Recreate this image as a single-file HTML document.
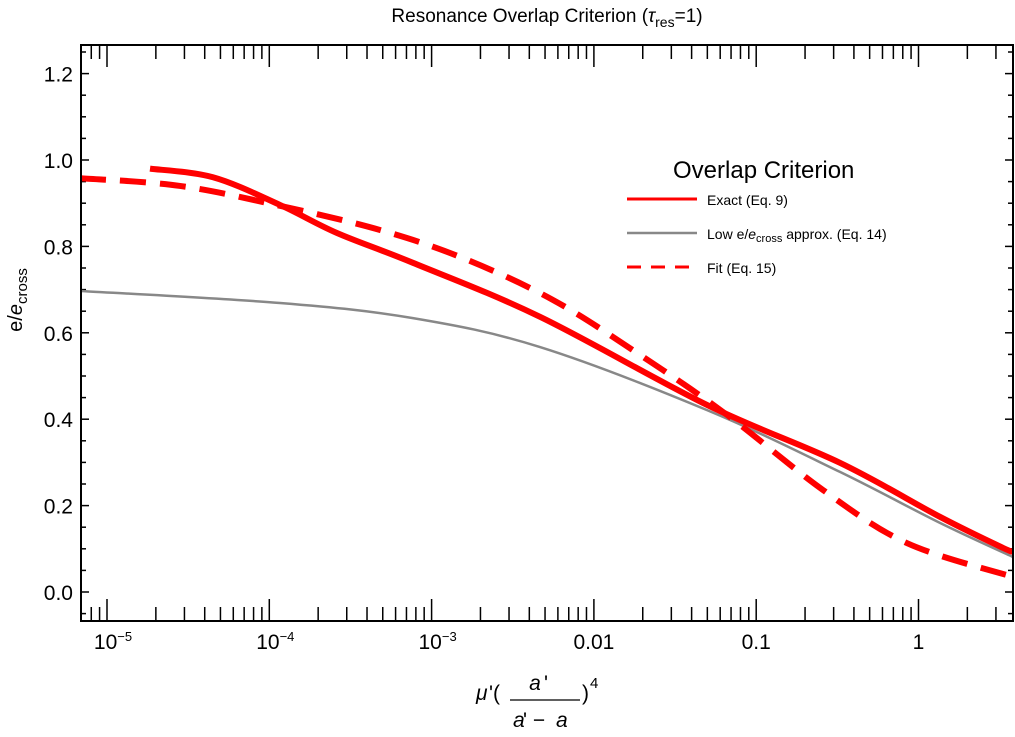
<!DOCTYPE html>
<html><head><meta charset="utf-8"><style>
html,body{margin:0;padding:0;background:#fff;}
svg{display:block;font-family:"Liberation Sans",sans-serif;}
</style></head><body>
<svg id="chart" width="1015" height="737" viewBox="0 0 1015 737">
<text x="547" y="22" text-anchor="middle" font-size="19">Resonance Overlap Criterion (<tspan font-style="italic">τ</tspan><tspan font-size="14" dy="5">res</tspan><tspan dy="-5">=1)</tspan></text>
<g id="ticks"></g>
<g id="series"></g>
<rect x="81" y="45" width="932" height="576" fill="none" stroke="#000" stroke-width="2"/>
<text transform="translate(22,300) rotate(-90)" text-anchor="middle" font-size="20">e/<tspan font-style="italic">e</tspan><tspan font-size="15" dy="5">cross</tspan></text>
<g font-size="21">
<text x="476" y="700" font-style="italic">μ</text><text x="489" y="700">'(</text>
<text x="535" y="690" text-anchor="middle" font-style="italic">a</text><text x="544" y="690">'</text>
<line x1="510" y1="700" x2="580" y2="700" stroke="#000" stroke-width="1.3"/>
<text x="513" y="727" font-style="italic">a</text><text x="523" y="727">' − </text><text x="556" y="727" font-style="italic">a</text>
<text x="582" y="700">)</text><text x="590" y="688" font-size="15">4</text>
</g>
<g>
<text x="673" y="178" font-size="24">Overlap Criterion</text>
<line x1="627" y1="199" x2="697" y2="199" stroke="#f00" stroke-width="3"/>
<text x="707" y="205" font-size="14">Exact (Eq. 9)</text>
<line x1="627" y1="233" x2="697" y2="233" stroke="#888" stroke-width="2.5"/>
<text x="707" y="239" font-size="14">Low e/<tspan font-style="italic">e</tspan><tspan font-size="11" dy="3">cross</tspan><tspan dy="-3"> approx. (Eq. 14)</tspan></text>
<line x1="627" y1="267" x2="697" y2="267" stroke="#f00" stroke-width="3" stroke-dasharray="14,10"/>
<text x="707" y="273" font-size="14">Fit (Eq. 15)</text>
</g>
</svg>
<script>
const exactLogX=[-4.735,-4.347,-3.934,-3.583,-3.115,-2.332,-1.303,-0.484,0.132,0.521,0.582];
const exactY=[0.980,0.960,0.896,0.831,0.762,0.637,0.433,0.299,0.174,0.102,0.094];
const fitLogX=[-5.166,-4.550,-3.934,-3.318,-2.807,-2.252,-1.716,-1.180,-0.588,-0.070,0.582];
const fitY=[0.958,0.940,0.894,0.838,0.773,0.676,0.549,0.410,0.236,0.113,0.035];
const lowLogX=[-5.166,-3.934,-3.115,-2.332,-1.303,-0.484,0.132,0.582];
const lowY=[0.697,0.669,0.634,0.567,0.421,0.278,0.160,0.081];
const yTicks=[0,0.2,0.4,0.6,0.8,1.0,1.2];
const xTickExp=[-5,-4,-3,-2,-1,0];
const xTickLabels=["10<tspan font-size='13' dy='-8'>−5</tspan>","10<tspan font-size='13' dy='-8'>−4</tspan>","10<tspan font-size='13' dy='-8'>−3</tspan>","0.01","0.1","1"];
const NS="http://www.w3.org/2000/svg";
const X0=81,X1=1013,Y0=45,Y1=621;
function xs(l){return 107+(l+5)*162.3;}
function ys(v){return 592-v*432;}
const tg=document.getElementById('ticks');
function ln(x1,y1,x2,y2,w){const e=document.createElementNS(NS,'line');e.setAttribute('x1',x1);e.setAttribute('y1',y1);e.setAttribute('x2',x2);e.setAttribute('y2',y2);e.setAttribute('stroke','#000');e.setAttribute('stroke-width',w||1.5);


tg.appendChild(e);}
for(let v=-0.05;v<=1.26;v+=0.05){const vv=Math.round(v*100)/100;const y=ys(vv);if(y<Y0||y>Y1)continue;const maj=Math.abs(vv*5-Math.round(vv*5))<1e-6;const L=maj?8:5;ln(X0,y,X0+L,y);ln(X1,y,X1-L,y);}
yTicks.forEach(v=>{const t=document.createElementNS(NS,'text');t.setAttribute('x',73);t.setAttribute('y',ys(v)+8);t.setAttribute('text-anchor','end');t.setAttribute('font-size','21');t.textContent=v.toFixed(1);


tg.appendChild(t);});
for(let d=-6;d<=0;d++){for(let m=1;m<=9;m++){const l=d+Math.log10(m);const x=xs(l);if(x<X0+1||x>X1-1)continue;const L=m==1?22:14;ln(x,Y1,x,Y1-L);ln(x,Y0,x,Y0+L);}}
xTickExp.forEach((e,i)=>{const t=document.createElementNS(NS,'text');t.setAttribute('x',xs(e)+(i<3?6:0));t.setAttribute('y',649);t.setAttribute('text-anchor','middle');t.setAttribute('font-size','21');t.innerHTML=xTickLabels[i];


tg.appendChild(t);});
function pathD(lx,vy){const p=lx.map((l,i)=>[xs(l),ys(vy[i])]);let d='M'+p[0][0]+','+p[0][1];
for(let i=0;i<p.length-1;i++){const a=p[i-1]||p[i],b=p[i],c=p[i+1],e=p[i+2]||p[i+1];
d+=' C'+(b[0]+(c[0]-a[0])/6)+','+(b[1]+(c[1]-a[1])/6)+' '+(c[0]-(e[0]-b[0])/6)+','+(c[1]-(e[1]-b[1])/6)+' '+c[0]+','+c[1];}return d;}
const sg=document.getElementById('series');
function addPath(lx,vy,col,w,dash,name){const e=document.createElementNS(NS,'path');e.setAttribute('d',pathD(lx,vy));e.setAttribute('fill','none');e.setAttribute('stroke',col);e.setAttribute('stroke-width',w);if(dash)e.setAttribute('stroke-dasharray',dash);


sg.appendChild(e);}
const cp=document.createElementNS(NS,'clipPath');cp.id='clip';cp.innerHTML='<rect x="81" y="45" width="932" height="576"/>';document.getElementById('chart').appendChild(cp);
sg.setAttribute('clip-path','url(#clip)');
addPath(lowLogX,lowY,'#888',2.5,null,'low-approx-line');
addPath(exactLogX,exactY,'#f00',6,null,'exact-line');
addPath(fitLogX,fitY,'#f00',6,'26,14','fit-line');
</script>
</body></html>
